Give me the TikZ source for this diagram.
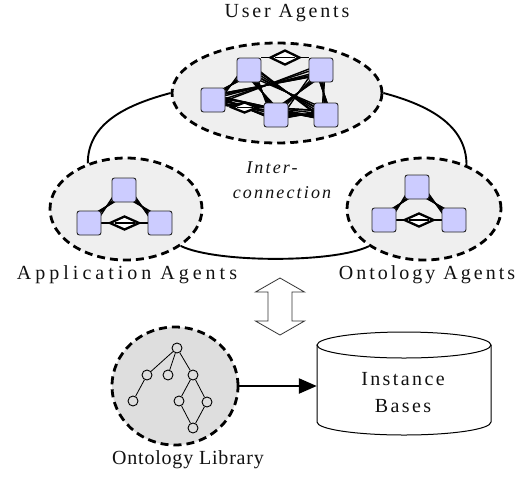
\documentclass[tikz,border=0pt]{standalone}
\usepackage{fontspec}
\setmainfont{Liberation Serif}
\newfontfamily\spUser[LetterSpace=14]{Liberation Serif}
\newfontfamily\spApp[LetterSpace=20]{Liberation Serif}
\newfontfamily\spOnt[LetterSpace=15]{Liberation Serif}
\newfontfamily\spLib[LetterSpace=4]{Liberation Serif}
\newfontfamily\spBase[LetterSpace=12]{Liberation Serif}
\newfontfamily\spInter[LetterSpace=12]{Liberation Serif}
\usetikzlibrary{shapes.geometric,arrows.meta,calc}
\definecolor{agentgrey}{HTML}{EFEFEF}
\definecolor{libgrey}{HTML}{DEDEDE}
\definecolor{boxblue}{HTML}{CCCCFF}
\definecolor{ink}{HTML}{111111}
\pgfdeclarelayer{bg}
\pgfdeclarelayer{links}
\pgfsetlayers{bg,links,main}

% a crossing bundle of message lines between two agents
\newcommand\msgbundle[2]{%
  \draw[lnk] ([shift={(-4,-4)}]#1.center) -- ([shift={(4,4)}]#2.center);
  \draw[lnk] ([shift={(4,4)}]#1.center) -- ([shift={(-4,-4)}]#2.center);
  \draw[lnk] ([shift={(-4,4)}]#1.center) -- ([shift={(4,-4)}]#2.center);
  \draw[lnk] ([shift={(4,-4)}]#1.center) -- ([shift={(-4,4)}]#2.center);
  \draw[lnk] ([shift={(0,-5)}]#1.center) -- ([shift={(0,5)}]#2.center);
  \draw[lnk] ([shift={(-5,0)}]#1.center) -- ([shift={(5,0)}]#2.center);
}
% a line between two agents with an aggregation diamond in its middle
\newcommand\msgdiamond[4]{%
  \draw[lnk] (#1) -- (#2);
  \node[dmd, minimum width=#3pt, minimum height=#4pt] at ($(#1)!.5!(#2)$) {};
  \draw[lnk] ($(#1)!.5!(#2)+(-#3/2+5,0)$) -- ($(#1)!.5!(#2)+(#3/2-5,0)$);
}

\begin{document}
\begin{tikzpicture}[x=1pt,y=-1pt,
  group/.style={ellipse, draw=black, fill=agentgrey, line width=2.8pt,
    dash pattern=on 8pt off 5pt, inner sep=0},
  agent/.style={rectangle, rounded corners=2.5pt, draw=black!85, line width=0.9pt,
    fill=boxblue, minimum width=24pt, minimum height=24pt, inner sep=0},
  lnk/.style={draw=black, line width=1.4pt},
  ring/.style={draw=black, line width=1.9pt},
  dmd/.style={diamond, draw=black, line width=2.3pt, fill=white, inner sep=0},
  treenode/.style={circle, draw=black, line width=0.9pt, fill=libgrey,
    minimum size=10pt, inner sep=0},
  treeedge/.style={draw=black, line width=0.8pt},
  lbl/.style={text=ink, font=\fontsize{20}{22}\selectfont, anchor=base, inner sep=0},
  dbl/.style={draw=black!80, line width=0.8pt, fill=white, line join=miter},
  cyl/.style={draw=black, line width=1pt},
  feed/.style={draw=black, line width=2.4pt, -{Triangle[length=18pt,width=15pt]}}]

\useasboundingbox (0,0) rectangle (521,477);

% agent groups and ontology library
\begin{pgfonlayer}{bg}
  \fill[white] (0,0) rectangle (521,477);
  \node[group, minimum width=210pt, minimum height=100pt] (ua) at (277,93) {};
  \node[group, minimum width=152pt, minimum height=102pt] (aa) at (126,209) {};
  \node[group, minimum width=154pt, minimum height=102pt] (oa) at (424,209) {};
  \node[group, fill=libgrey, minimum width=126pt, minimum height=118pt] (lib) at (175,386) {};
\end{pgfonlayer}

% user agents
\node[agent] (u1) at (249,70) {};
\node[agent] (u2) at (213,100) {};
\node[agent] (u3) at (321,70) {};
\node[agent] (u4) at (276,115) {};
\node[agent] (u5) at (326,115) {};

% application agents
\node[agent] (a1) at (124,190) {};
\node[agent] (a2) at (89,223) {};
\node[agent] (a3) at (160,223) {};

% ontology agents
\node[agent] (o1) at (417,187) {};
\node[agent] (o2) at (384,220) {};
\node[agent] (o3) at (454,220) {};

\begin{pgfonlayer}{links}
  % interconnection between the three groups
  \draw[ring] (ua.west) .. controls +(-45,12) and +(0,-40) .. (aa.130);
  \draw[ring] (ua.east) .. controls +(45,12) and +(0,-40) .. (oa.46);
  \draw[ring] (aa.-34) .. controls +(35,17) and +(-35,17) .. (oa.-146);

  % message tangle among the user agents
  \msgbundle{u2}{u1}
  \msgbundle{u1}{u4}
  \msgbundle{u2}{u4}
  \msgbundle{u3}{u5}
  \msgbundle{u1}{u5}
  \msgbundle{u4}{u3}
  \msgbundle{u2}{u3}
  \msgbundle{u4}{u5}
  \msgbundle{u2}{u5}
  \msgdiamond{u1.north east}{u3.north west}{30}{15}
  \msgdiamond{u2.east}{u4.west}{26}{11}

  % application agents links
  \msgbundle{a2}{a1}
  \msgbundle{a1}{a3}
  \msgdiamond{a2.east}{a3.west}{30}{14}

  % ontology agents links
  \msgbundle{o2}{o1}
  \msgbundle{o1}{o3}
  \msgdiamond{o2.east}{o3.west}{30}{14}
\end{pgfonlayer}

% ontology library tree
\node[treenode] (t0) at (177,348) {};
\node[treenode] (t1) at (147,375) {};
\node[treenode] (t2) at (168,375) {};
\node[treenode] (t3) at (193,375) {};
\node[treenode] (t4) at (133,401) {};
\node[treenode] (t5) at (179,401) {};
\node[treenode] (t6) at (207,402) {};
\node[treenode] (t7) at (193,428) {};
\draw[treeedge] (t0) -- (t1);
\draw[treeedge] (t0) -- (t2);
\draw[treeedge] (t0) -- (t3);
\draw[treeedge] (t1) -- (t4);
\draw[treeedge] (t3) -- (t5);
\draw[treeedge] (t3) -- (t6);
\draw[treeedge] (t5) -- (t7);
\draw[treeedge] (t6) -- (t7);

% exchange between agents and the knowledge stores
\draw[dbl] (280,278) -- (304.5,292) -- (292,292) -- (292,321) -- (304.5,321)
  -- (280,335) -- (255.5,321) -- (268,321) -- (268,292) -- (255.5,292) -- cycle;

% instance bases
\node[minimum width=174pt, minimum height=90pt, inner sep=0] (ib) at (404,383.5) {};
\draw[cyl] (404,345) ellipse [x radius=87pt, y radius=13pt];
\draw[cyl] (317,345) -- (317,422)
  .. controls (317,429.2) and (356,435) .. (404,435)
  .. controls (452,435) and (491,429.2) .. (491,422) -- (491,345);
\draw[feed] (lib.east) -- (lib.east -| ib.west);

% labels
\node[lbl] (lu) at (287,17) {\spUser User Agents};
\node[lbl] (la) at (127,279) {\spApp Application Agents};
\node[lbl] (lo) at (427,279) {\spOnt Ontology Agents};
\node[lbl] (ll) at (188,464) {\spLib Ontology Library};
\node[lbl] (li1) at (403,385) {\spBase Instance};
\node[lbl] (li2) at (403,412) {\spBase Bases};
\node[lbl, font=\fontsize{18}{20}\selectfont\itshape] (lx1) at (272,173) {\spInter\itshape Inter-};
\node[lbl, font=\fontsize{18}{20}\selectfont\itshape] (lx2) at (282,198) {\spInter\itshape connection};
\end{tikzpicture}
\end{document}
